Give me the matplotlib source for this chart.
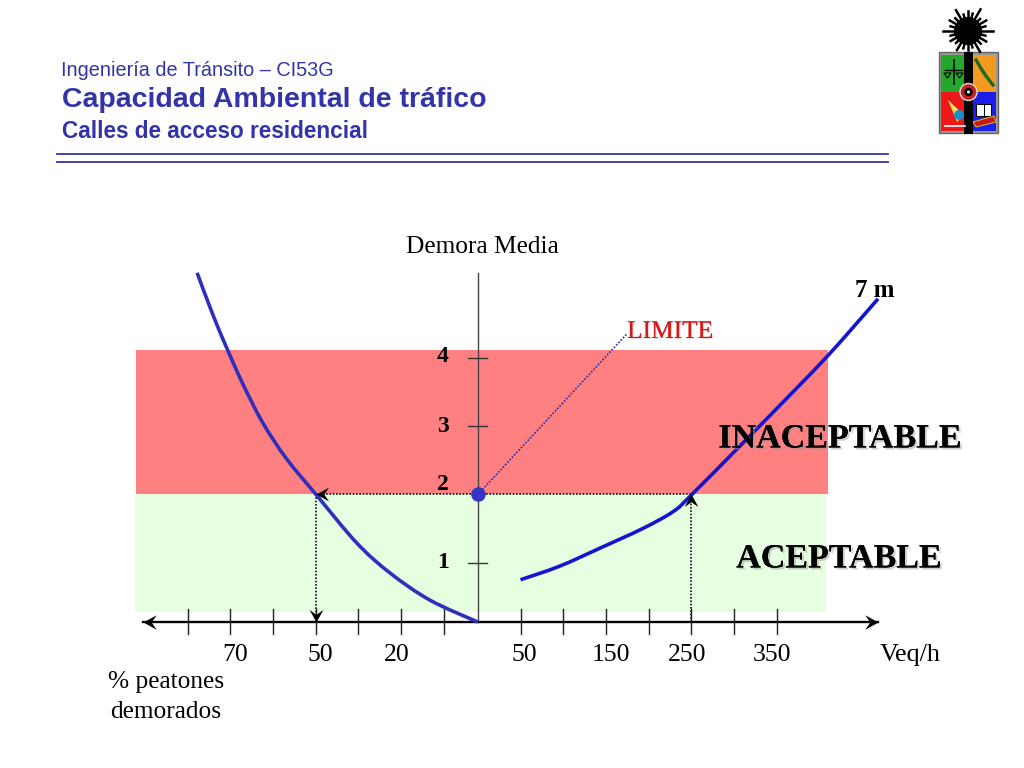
import numpy as np
import matplotlib
matplotlib.use('Agg')
import matplotlib.pyplot as plt
import matplotlib.patheffects as pe
from matplotlib.patches import Rectangle, Circle, Polygon, PathPatch
from matplotlib.path import Path
from matplotlib.transforms import Affine2D

# ---- data ----
left_x = [-329, -311, -293, -275, -252, -224, -189, -142, -103, -56, 0]
left_y = [5.25, 4.65, 4.11, 3.61, 3.05, 2.52, 1.99, 1.29, 0.85, 0.45, 0.13]
right_x = [50, 96, 146, 193, 229, 250, 311, 369, 409, 439, 469]
right_y = [0.75, 0.95, 1.23, 1.50, 1.75, 1.99, 2.76, 3.50, 4.02, 4.44, 4.87]
y_ticks = [1, 2, 3, 4]
y_tick_marks = [1, 3, 4]
x_tick_pos = [-340, -290, -240, -190, -140, -90, -40, 50, 100, 150, 200, 250, 300, 350]
x_labels = ['70', '50', '20', '50', '150', '250', '350']
limit_demora = 2
limit_left = -190
limit_right = 250
limit_label_pos = (175, 4.36)
axis_left, axis_right, axis_y = -392, 469, 0.13

SERIF = 'Liberation Serif'
SANS = 'Liberation Sans'
BLUE = '#3333aa'
CURVE = '#2f2fbe'

fig = plt.figure(figsize=(10.24, 7.68), dpi=100, facecolor='white')
ax = fig.add_axes([0, 0, 1, 1])
ax.set_xlim(-560, 640)
ax.set_ylim(-2.01, 9.25)
ax.axis('off')

def P(px, py):
    return (px / 1024, 1 - py / 768)

def smooth_curve(xs, ys, **kw):
    """Draw through the read points with Bezier segments."""
    p = np.column_stack([xs, ys]).astype(float)
    q = np.vstack([p[0], p, p[-1]])
    verts, codes = [tuple(p[0])], [Path.MOVETO]
    for i in range(1, len(q) - 2):
        verts += [tuple(q[i] + (q[i+1] - q[i-1]) / 6), tuple(q[i+1] - (q[i+2] - q[i]) / 6), tuple(q[i+1])]
        codes += [Path.CURVE4] * 3
    ax.add_patch(PathPatch(Path(verts, codes), fc='none', capstyle='butt', **kw))

# barbed arrow-head, tip at origin, pointing right
HEAD = Path([(0, 0), (-1, 0.55), (-0.62, 0), (-1, -0.55), (0, 0)], closed=True)
def head(x, y, angle, ms=18):
    ax.plot([x], [y], marker=HEAD.transformed(Affine2D().rotate_deg(angle)), color='black',
            ms=ms, mew=0, ls='none', zorder=6)

# zones
ax.axhspan(2, 4.12, xmin=136/1024, xmax=828/1024, color='#ff8080', lw=0, zorder=1)
ax.axhspan(0.28, 2, xmin=135/1024, xmax=826/1024, color='#e5ffe0', lw=0, zorder=1)

# axes
ax.plot([0, 0], [axis_y, 5.25], color='#444444', lw=1.0, zorder=3)
for t in y_tick_marks:
    ax.plot([-11, 11], [t, t], color='#333333', lw=1.0, zorder=3)
ax.plot([axis_left, axis_right], [axis_y, axis_y], color='black', lw=1.7, zorder=4)
head(axis_left, axis_y, 180, 19)
head(axis_right, axis_y, 0, 19)
for x in x_tick_pos:
    ax.plot([x, x], [-0.05, 0.32], color='#222222', lw=1.0, zorder=4)

# curves
smooth_curve(left_x, left_y, ec=CURVE, lw=2.6, zorder=5)
smooth_curve(right_x, right_y, ec='#1515d0', lw=2.6, zorder=5)

# guides
dot = dict(color='#111111', lw=1.2, ls=(0, (1, 1)), zorder=4)
ax.plot([limit_left, limit_right], [limit_demora]*2, **dot)
ax.plot([limit_left, limit_left], [limit_demora, axis_y], **dot)
ax.plot([limit_right, limit_right], [axis_y, limit_demora], **dot)
head(limit_left, limit_demora, 180)
head(limit_left, axis_y, -90)
head(limit_right, limit_demora, 90)
ax.plot([0, limit_label_pos[0]], [limit_demora, limit_label_pos[1]], color='#2a2aa0', lw=1.2, ls=(0, (1, 1)), zorder=4)
ax.plot([0], [limit_demora], 'o', color='#3535c5', ms=10.5, mew=0, zorder=7)

# text helpers
def txt(px, py, s, size, ha='center', va='center', family=SERIF, weight='normal', color='black', **kw):
    return ax.text(*P(px, py), s, transform=ax.transAxes, fontsize=size, ha=ha, va=va,
                   family=family, weight=weight, color=color, zorder=9, **kw)

# header
txt(61, 71, 'Ingeniería de Tránsito – CI53G', 14.3, ha='left', family=SANS, color=BLUE)
txt(62, 100, 'Capacidad Ambiental de tráfico', 20.5, ha='left', family=SANS, weight='bold', color=BLUE)
txt(62, 131, 'Calles de acceso residencial', 16.3, ha='left', family=SANS, weight='bold', color=BLUE)
for py in (153.5, 162):
    ax.plot([57/1024, 888/1024], [1 - py/768]*2, transform=ax.transAxes, color=BLUE, lw=1.3, zorder=2)

# chart labels
txt(482, 247, 'Demora Media', 18.3)
txt(875, 290, '7 m', 18, weight='bold')
lim = txt(670, 332, 'LIMITE', 18.3, color='#d81818')
lim.set_path_effects([pe.withSimplePatchShadow(offset=(0.8, -0.8), shadow_rgbFace='#aaaaaa', alpha=0.4), pe.Normal()])
for s, py in zip(y_ticks, (563, 485, 427, 357)):
    txt(443, py, str(s), 17, weight='bold')
for s, px in zip(x_labels, (235, 320, 397, 524, 611, 687, 772)):
    txt(px, 655, s, 18.5)
txt(910, 655, 'Veq/h', 18.8)
txt(166, 682, '% peatones', 18.3)
txt(166, 712, 'demorados', 18.3)
shadow = [pe.withSimplePatchShadow(offset=(1.5, -1.5), shadow_rgbFace='#999999', alpha=0.45), pe.Normal()]
txt(840, 439, 'INACEPTABLE', 24.5, weight='bold').set_path_effects(shadow)
txt(839, 559, 'ACEPTABLE', 24.5, weight='bold').set_path_effects(shadow)

# crest (pixel coordinates inside its own axes)
lg = fig.add_axes([930/1024, 1 - 140/768, 76/1024, 140/768])
lg.set_xlim(930, 1006)
lg.set_ylim(140, 0)
lg.axis('off')
ray_ang = np.deg2rad(np.arange(0, 360, 15))
ray_len = [25, 18, 21, 18, 24, 17, 19, 18, 22, 17, 20, 18, 25, 18, 21, 18, 24, 17, 20, 18, 25, 17, 21, 18]
for a, r in zip(ray_ang, ray_len):
    lg.plot([968, 968 + r*np.cos(a)], [31, 31 + r*np.sin(a)], color='black', lw=1.8)
lg.add_patch(Circle((968, 31), 14, color='black', lw=0))
lg.add_patch(Rectangle((938.5, 52), 59.5, 81, fc='#999999', ec='#666666', lw=1))
lg.add_patch(Rectangle((941, 55), 24, 37, fc='#22a82a', lw=0))
lg.add_patch(Rectangle((972, 55), 24, 37, fc='#f59a20', lw=0))
lg.add_patch(Rectangle((941, 92), 24, 39, fc='#ee1818', lw=0))
lg.add_patch(Rectangle((972, 92), 24, 39, fc='#1a20e8', lw=0))
# scales
lg.plot([945, 962], [70, 70], color='black', lw=1)
lg.plot([954, 954], [60, 84], color='black', lw=1.2)
lg.add_patch(Polygon([(944, 73), (951, 73), (947.5, 78)], fc='none', ec='black', lw=0.8))
lg.add_patch(Polygon([(956, 73), (963, 73), (959.5, 78)], fc='none', ec='black', lw=0.8))
# branch
lg.plot([976, 982, 986, 993], [60, 70, 76, 85], color='#1c6a20', lw=2.4)
# red quadrant device
lg.add_patch(Polygon([(948, 100), (964, 115), (957, 122)], fc='#f4e060', lw=0))
lg.add_patch(Circle((959, 115), 5, color='#1890c8', lw=0))
lg.plot([945, 965], [126, 126], color='white', lw=1.2)
# book
lg.add_patch(Rectangle((976, 104), 15, 12, fc='white', ec='black', lw=0.7))
lg.plot([983.5, 983.5], [104, 116], color='black', lw=0.7)
lg.add_patch(Polygon([(973, 122), (994, 116), (996, 122), (976, 127)], fc='#c81818', ec='#e0c020', lw=0.7))
# bar and seal
lg.add_patch(Rectangle((964, 52), 9, 82, fc='black', lw=0))
lg.add_patch(Circle((968.5, 92), 8.5, fc='#c02020', ec='#dddddd', lw=1))
lg.add_patch(Circle((968.5, 92), 4.2, fc='black', lw=0))
lg.add_patch(Circle((968.5, 92), 1.5, fc='white', lw=0))

fig.savefig('out.png', dpi=100, facecolor='white')
